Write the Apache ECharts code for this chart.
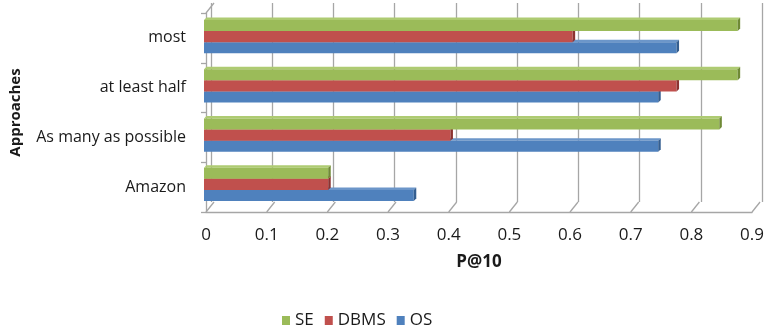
<!DOCTYPE html>
<html>
<head>
<meta charset="utf-8">
<style>
  html, body { margin: 0; padding: 0; background: #fff; }
  #chart { width: 767px; height: 330px; }
</style>
<script src="https://cdn.jsdelivr.net/npm/echarts@6/dist/echarts.min.js"></script>
</head>
<body>
<div id="chart"></div>
<script>
// P@10 per approach and dataset
const categories = ['Amazon', 'As many as possible', 'at least half', 'most'];
const seValues   = [0.20, 0.84, 0.87, 0.87];
const dbmsValues = [0.20, 0.40, 0.77, 0.60];
const osValues   = [0.34, 0.74, 0.74, 0.77];
const xTicks     = [0, 0.1, 0.2, 0.3, 0.4, 0.5, 0.6, 0.7, 0.8, 0.9];
const seriesNames = ['SE', 'DBMS', 'OS'];

const FONT = 'Open Sans';
const TEXT = '#1a1a1a';
const LINE = '#A6A6A6';
const DEPTH_X = 8, DEPTH_Y = -10;

const palette = {
  SE:   { front: '#9BBB59', top: '#AECB72', side: '#6F8A35' },
  DBMS: { front: '#C0504D', top: '#CB6B68', side: '#8C3331' },
  OS:   { front: '#4F81BD', top: '#6C96C9', side: '#345E90' }
};

// slot 0 = upper bar within a category band
function barRenderer(name, slot) {
  const c = palette[name];
  return function (params, api) {
    const v = api.value(0), cat = api.value(1);
    const p0 = api.coord([0, cat]);
    const p1 = api.coord([v, cat]);
    const band = api.size([0, 1])[1];
    const h = band * 0.225;
    const y = p0[1] - 1.5 * h + slot * h;
    const x0 = p0[0] - 2, x1 = p1[0];
    const d = 2.5;
    return {
      type: 'group',
      children: [
        { type: 'polygon', shape: { points: [[x0, y], [x0 + d, y - d], [x1 + d, y - d], [x1, y]] },
          style: { fill: c.top } },
        { type: 'rect', shape: { x: x0, y: y, width: x1 - x0, height: h },
          style: { fill: c.front } },
        { type: 'polygon', shape: { points: [[x1, y], [x1 + d, y - d], [x1 + d, y + h - d], [x1, y + h]] },
          style: { fill: c.side } }
      ]
    };
  };
}

function seriesData(values) {
  return values.map((v, i) => [v, i]);
}

// floor ticks slanting back to the wall, plus the top edge of the side wall
function wallRenderer(params, api) {
  const v = api.value(0);
  const p = api.coord([v, 0]);
  const band = api.size([0, 1])[1];
  const yb = p[1] + band / 2;
  const children = [
    { type: 'line', shape: { x1: p[0], y1: yb, x2: p[0] + DEPTH_X, y2: yb + DEPTH_Y },
      style: { stroke: LINE, lineWidth: 1.3 } }
  ];
  if (v === 0) {
    const yt = api.coord([0, categories.length - 1])[1] - band / 2;
    children.push({ type: 'line', shape: { x1: p[0], y1: yt, x2: p[0] + DEPTH_X, y2: yt + DEPTH_Y },
      style: { stroke: LINE, lineWidth: 1.3 } });
  }
  return { type: 'group', children };
}

const chart = echarts.init(document.getElementById('chart'));
const hiddenAxis = { show: false };

chart.setOption({
  animation: false,
  textStyle: { fontFamily: FONT },
  grid: [
    { left: 211, right: 5, top: 3, bottom: 128 },   // back wall
    { left: 203, right: 14, top: 13, bottom: 118 }, // front edge
    { left: 206, right: 11, top: 12, bottom: 121 }  // bars
  ],
  xAxis: [
    { gridIndex: 0, type: 'value', min: 0, max: 0.9, interval: 0.1,
      axisLine: { show: false }, axisTick: { show: false }, axisLabel: { show: false },
      splitLine: { show: true, lineStyle: { color: LINE, width: 1.3 } } },
    { gridIndex: 1, type: 'value', min: 0, max: 0.9, interval: 0.1,
      name: 'P@10', nameLocation: 'middle', nameGap: 42,
      nameTextStyle: { fontFamily: FONT, fontSize: 17, fontWeight: 'bold', color: TEXT },
      axisLine: { show: true, lineStyle: { color: LINE, width: 1.3 } },
      axisTick: { show: false },
      axisLabel: { margin: 15, fontSize: 17, color: TEXT, fontFamily: FONT,
        formatter: v => String(+v.toFixed(1)) },
      splitLine: { show: false } },
    Object.assign({ gridIndex: 2, type: 'value', min: 0, max: 0.9 }, hiddenAxis)
  ],
  yAxis: [
    { gridIndex: 0, type: 'category', data: categories, show: false },
    { gridIndex: 1, type: 'category', data: categories,
      name: 'Approaches', nameLocation: 'middle', nameGap: 183, nameRotate: 90,
      nameTextStyle: { fontFamily: FONT, fontSize: 15, fontWeight: 'bold', color: TEXT },
      axisLine: { show: true, lineStyle: { color: LINE, width: 1.3 } },
      axisTick: { show: true, length: 5, lineStyle: { color: LINE, width: 1.3 } },
      axisLabel: { margin: 20, fontSize: 16, color: TEXT, fontFamily: FONT, padding: [3, 0, 0, 0] },
      splitLine: { show: false } },
    { gridIndex: 2, type: 'category', data: categories, show: false }
  ],
  legend: {
    data: seriesNames,
    left: 277, top: 307,
    icon: 'rect', itemWidth: 8, itemHeight: 9, itemGap: 11,
    textStyle: { fontFamily: FONT, fontSize: 17, color: TEXT, padding: [0, 0, 0, 0] },
    selectedMode: false
  },
  series: [
    { type: 'custom', name: 'wall', xAxisIndex: 1, yAxisIndex: 1, silent: true,
      renderItem: wallRenderer, data: xTicks.map(v => [v, 0]), encode: { x: 0, y: 1 } },
    { type: 'custom', name: 'OS', xAxisIndex: 2, yAxisIndex: 2,
      itemStyle: { color: palette.OS.front },
      renderItem: barRenderer('OS', 2), data: seriesData(osValues), encode: { x: 0, y: 1 } },
    { type: 'custom', name: 'DBMS', xAxisIndex: 2, yAxisIndex: 2,
      itemStyle: { color: palette.DBMS.front },
      renderItem: barRenderer('DBMS', 1), data: seriesData(dbmsValues), encode: { x: 0, y: 1 } },
    { type: 'custom', name: 'SE', xAxisIndex: 2, yAxisIndex: 2,
      itemStyle: { color: palette.SE.front },
      renderItem: barRenderer('SE', 0), data: seriesData(seValues), encode: { x: 0, y: 1 } }
  ]
});
</script>
</body>
</html>
